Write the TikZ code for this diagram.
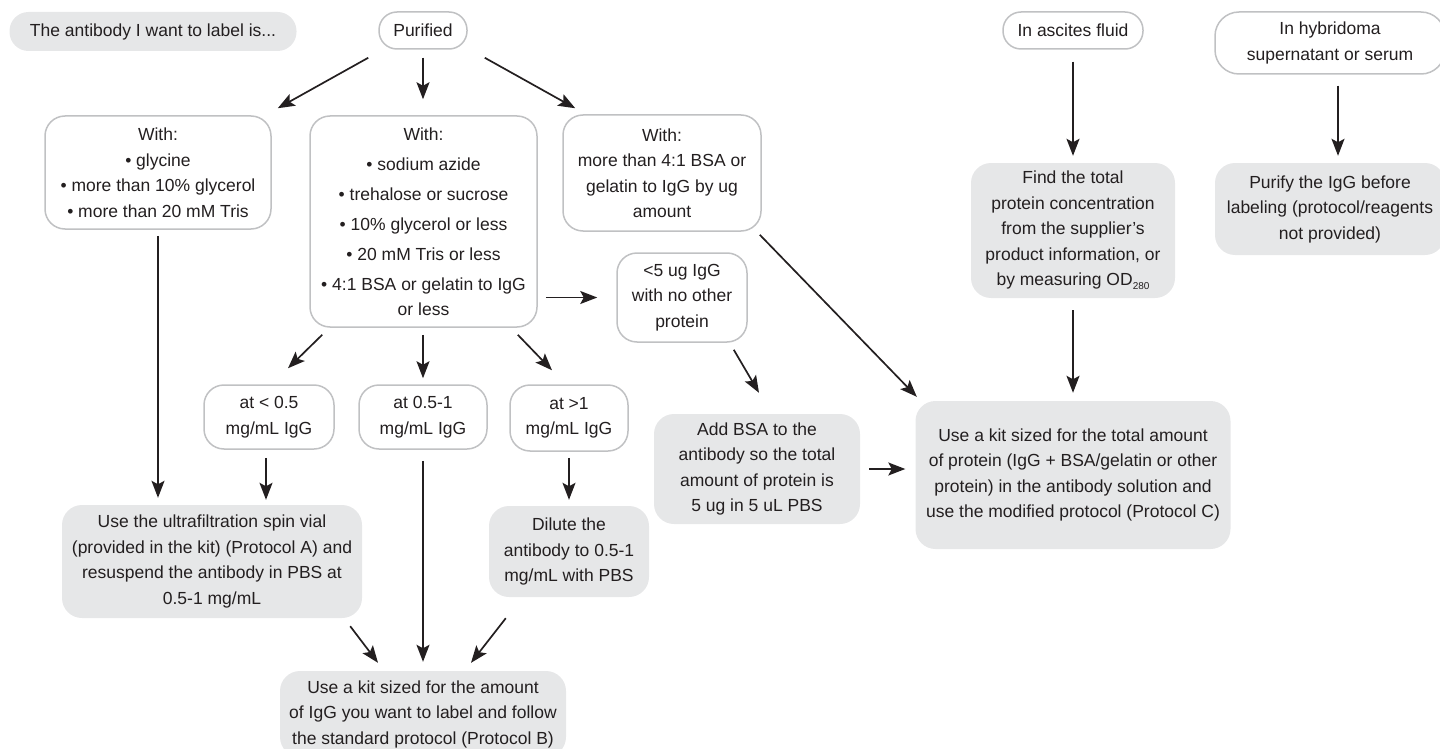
\documentclass[tikz,border=0pt]{standalone}
\usepackage{fontspec}
\setmainfont{Liberation Sans}
\usepackage{tikz}
\usetikzlibrary{arrows.meta}
\definecolor{boxFillCol}{RGB}{230, 231, 232}
\definecolor{boxLineCol}{RGB}{192, 193, 195}
\definecolor{inkCol}{RGB}{35, 31, 32}
\tikzset{myGreyBox/.style={fill=boxFillCol, rounded corners=20pt, align=center, inner sep=0pt, text=inkCol}}
\tikzset{myWhiteBox/.style={draw=boxLineCol, line width=1.5pt, fill=white, rounded corners=20pt, align=center, inner sep=0pt, text=inkCol}}
\tikzset{myPill/.style={myWhiteBox, rounded corners=18pt}}
\tikzset{myArrow/.style={draw=inkCol, line width=1.7pt, -{Stealth[length=17pt,width=13pt,inset=3.5pt]}}}

\begin{document}
\begin{tikzpicture}[x=1pt,y=-1pt,font=\fontsize{17.5}{25.5}\selectfont]
	\clip (0,0) rectangle (1440,749);
	%\draw[help lines, step=50] (0,0) grid (1440,749);

	% top row
	\node[myGreyBox, rounded corners=19pt, minimum width=287, minimum height=39] (title) at (153,31.5) {The antibody I want to label is...};
	\node[myPill, minimum width=88, minimum height=37] (purified) at (423,30.5) {Purified};
	\node[myPill, minimum width=140, minimum height=37] (ascites) at (1073,30.5) {In ascites fluid};
	\node[myWhiteBox, rounded corners=24pt, minimum width=230, minimum height=62] (hybridoma) at (1330,43) {In hybridoma\\supernatant or serum};

	% purified branches
	\node[myWhiteBox, minimum width=226, minimum height=113] (leftBox) at (158,172.5) {With:\\• glycine\\• more than 10\% glycerol\\• more than 20 mM Tris};
	\node[myWhiteBox, minimum width=227, minimum height=211] (midBox) at (423.5,221.5) {With:\\[4.5pt]• sodium azide\\[4.5pt]• trehalose or sucrose\\[4.5pt]• 10\% glycerol or less\\[4.5pt]• 20 mM Tris or less\\[4.5pt]• 4:1 BSA or gelatin to IgG\\or less};
	\node[myWhiteBox, minimum width=198, minimum height=116] (thirdBox) at (662,173) {With:\\more than 4:1 BSA or\\gelatin to IgG by ug\\amount};
	\node[myWhiteBox, minimum width=130, minimum height=89] (smallBox) at (682,297.5) {<5 ug IgG\\with no other\\protein};

	% concentrations
	\node[myWhiteBox, minimum width=130, minimum height=64] (lowConc) at (269,417) {at < 0.5\\mg/mL IgG};
	\node[myWhiteBox, minimum width=128, minimum height=64] (midConc) at (423,417) {at 0.5-1\\mg/mL IgG};
	\node[myWhiteBox, minimum width=118, minimum height=66] (highConc) at (569,418) {at >1\\mg/mL IgG};

	% actions
	\node[myGreyBox, minimum width=300, minimum height=113] (ultraBox) at (212,561.5) {Use the ultrafiltration spin vial\\(provided in the kit) (Protocol A) and\\resuspend the antibody in PBS at\\0.5-1 mg/mL};
	\node[myGreyBox, minimum width=160, minimum height=91] (diluteBox) at (569,551.5) {Dilute the\\antibody to 0.5-1\\mg/mL with PBS};
	\node[myGreyBox, minimum width=286, minimum height=86] (kitB) at (423,714) {Use a kit sized for the amount\\of IgG you want to label and follow\\the standard protocol (Protocol B)};
	\node[myGreyBox, minimum width=206, minimum height=110] (bsaBox) at (757,469) {Add BSA to the\\antibody so the total\\amount of protein is\\5 ug in 5 uL PBS};
	\node[myGreyBox, minimum width=315, minimum height=148] (kitC) at (1073,475) {Use a kit sized for the total amount\\of protein (IgG + BSA/gelatin or other\\protein) in the antibody solution and\\use the modified protocol (Protocol C)};
	\node[myGreyBox, minimum width=204, minimum height=135] (findBox) at (1073,230.5) {Find the total\\protein concentration\\from the supplier’s\\product information, or\\by measuring OD{\fontsize{10}{10}\selectfont\raisebox{-4pt}{280}}};
	\node[myGreyBox, minimum width=230, minimum height=92] (purifyBox) at (1330,209) {Purify the IgG before\\labeling (protocol/reagents\\not provided)};

	% arrows
	\draw[myArrow] ([shift={(-10,8)}]purified.south west) -- ([shift={(6,-7)}]leftBox.north east);
	\draw[myArrow, shorten <=8pt, shorten >=16pt] (purified.south) -- (purified.south |- midBox.north);
	\draw[myArrow] ([shift={(17,8)}]purified.south east) -- ([shift={(13,-6)}]thirdBox.north west);
	\draw[myArrow, shorten <=6pt, shorten >=7pt] (leftBox.south) -- (leftBox.south |- ultraBox.north);
	\draw[myArrow] ([shift={(13,7)}]midBox.south west) -- ([shift={(19,-16)}]lowConc.north);
	\draw[myArrow, shorten <=7pt, shorten >=6pt] (midConc.north |- midBox.south) -- (midConc.north);
	\draw[myArrow] ([shift={(-20,7)}]midBox.south east) -- ([shift={(-17,-14)}]highConc.north);
	\draw[myArrow, shorten <=8pt, shorten >=19pt] (midBox.east |- smallBox.west) -- (smallBox.west);
	\draw[myArrow] ([shift={(-14,7)}]smallBox.south east) -- ([shift={(2,-21)}]bsaBox.north);
	\draw[myArrow] ([shift={(-2,3)}]thirdBox.south east) -- ([shift={(1.5,-4)}]kitC.north west);
	\draw[myArrow, shorten <=9pt, shorten >=10pt] (bsaBox.east) -- (bsaBox.east -| kitC.west);
	\draw[myArrow, shorten <=12pt, shorten >=7pt] (ascites.south) -- (findBox.north);
	\draw[myArrow, shorten <=12pt, shorten >=8pt] (findBox.south) -- (kitC.north);
	\draw[myArrow, shorten <=11pt, shorten >=7pt] ([xshift=8pt]hybridoma.south) -- ([xshift=8pt]purifyBox.north);
	\draw[myArrow, shorten <=8pt, shorten >=5pt] ([xshift=-3pt]lowConc.south) -- ([xshift=-3pt]lowConc.south |- ultraBox.north);
	\draw[myArrow, shorten <=11pt, shorten >=9pt] (midConc.south) -- (midConc.south |- kitB.north);
	\draw[myArrow, shorten <=6pt, shorten >=6pt] (highConc.south) -- (diluteBox.north);
	\draw[myArrow] ([shift={(-12,8)}]ultraBox.south east) -- ([shift={(-45,-8)}]kitB.north);
	\draw[myArrow] ([shift={(17,21)}]diluteBox.south west) -- ([shift={(48,-8)}]kitB.north);

\end{tikzpicture}
\end{document}
